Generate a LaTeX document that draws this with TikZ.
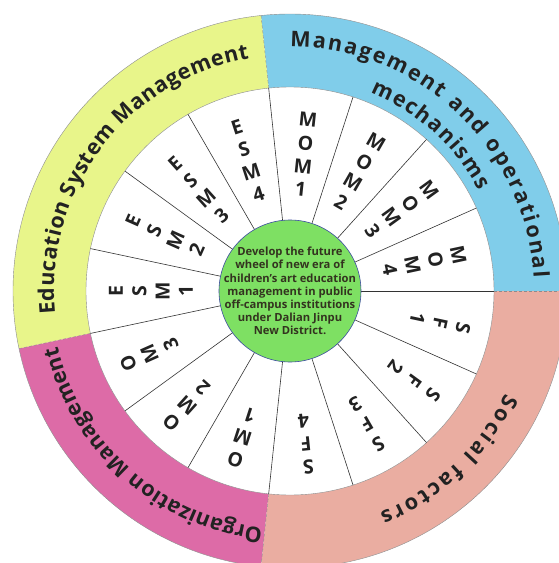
\documentclass[tikz,border=0pt]{standalone}
\usepackage{fontspec}
\setmainfont{Open Sans}
\usetikzlibrary{decorations.text}
\definecolor{cyel}{HTML}{E8F58A}
\definecolor{cblue}{HTML}{80CDEA}
\definecolor{csalm}{HTML}{EAADA1}
\definecolor{cpink}{HTML}{DD6BA7}
\definecolor{cgreen}{HTML}{7EE063}
\definecolor{cborder}{HTML}{3C4BA0}
\definecolor{ctext}{HTML}{222222}
\definecolor{cdark}{HTML}{33331F}
\tikzset{
  seglet/.style={font=\fontsize{19.5}{19.5}\selectfont\bfseries, text=ctext, inner sep=0pt},
  sepline/.style={draw=black!80, line width=0.6pt},
  rimline/.style={draw=black!45, line width=0.4pt},
  arctext/.style={decorate, decoration={text along path, text align=fit to path,
     text={|\fontsize{21.5}{21.5}\selectfont\bfseries\color{ctext}|#1}}},
}
\begin{document}
\begin{tikzpicture}
\useasboundingbox (-290pt,-272pt) rectangle (268pt,291pt);
% coloured outer ring sectors
\fill[cblue] (0,0) -- (0:277pt) arc[start angle=0, end angle=96, radius=277pt] -- cycle;
\fill[cyel] (0,0) -- (96:277pt) arc[start angle=96, end angle=192, radius=277pt] -- cycle;
\fill[cpink] (0,0) -- (192:277pt) arc[start angle=192, end angle=264, radius=277pt] -- cycle;
\fill[csalm] (0,0) -- (264:277pt) arc[start angle=264, end angle=360, radius=277pt] -- cycle;
\draw[rimline] (0,0) circle[radius=277pt];
\foreach \a in {0,96,192,264} \draw[rimline, densely dashed] (\a:204pt) -- (\a:277pt);
% white ring
\fill[white] (0,0) circle[radius=204pt];
\draw[rimline] (0,0) circle[radius=204pt];
% separators
\foreach \k in {0,...,14} \draw[sepline] (\k*24:70pt) -- (\k*24:204pt);
% hub
\node[circle, minimum size=142pt, inner sep=0pt, fill=cgreen, draw=cborder, line width=0.6pt] (hubc) at (0,0) {};
\node[align=center, font=\fontsize{11.2}{13.2}\selectfont\bfseries, text=cdark, inner sep=0pt] (hubt) at (hubc.center)
  {Develop the future\\wheel of new era of\\children's art education\\management in public\\off-campus institutions\\under Dalian Jinpu\\New District.};
% segment labels
\foreach \ang/\rs/\lab [count=\k] in {
   84/172/{M,O,M,1}, 60/172/{M,O,M,2}, 36/172/{M,O,M,3}, 12/172/{M,O,M,4},
   -12/177/{S,F,1}, -36/177/{S,F,2}, -60/177/{S,F,3}, -84/177/{S,F,4},
   252/177/{O,M,1}, 228/177/{O,M,2}, 204/177/{O,M,3},
   180/174/{E,S,M,1}, 156/172/{E,S,M,2}, 132/172/{E,S,M,3}, 108/172/{E,S,M,4}} {
  \foreach \ch [count=\j] in \lab {
    \pgfmathsetmacro\rr{\rs-23.3*(\j-1)}
    \node[seglet, rotate=\ang-90] (s\k-\j) at (\ang:\rr pt) {\ch};
  }
}
% outer ring texts
\path[arctext={Education System Management}] (185.5:236pt) arc[start angle=185.5, end angle=100, radius=236pt];
\path[arctext={Management and operational}] (90:244pt) arc[start angle=90, end angle=3, radius=244pt];
\path[arctext={mechanisms}] (68:214pt) arc[start angle=68, end angle=28, radius=214pt];
\path[arctext={Social factors}] (-25.5:239pt) arc[start angle=-25.5, end angle=-68, radius=239pt];
\path[arctext={Organization Management}] (263.5:239pt) arc[start angle=263.5, end angle=193.5, radius=239pt];
\end{tikzpicture}
\end{document}
